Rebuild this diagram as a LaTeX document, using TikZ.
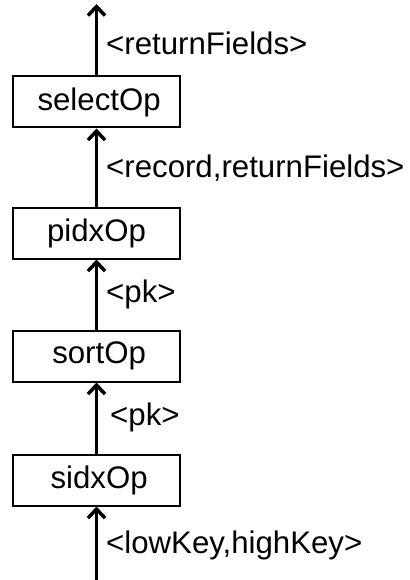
\documentclass[tikz,border=0pt]{standalone}
\usepackage{fontspec}
\setmainfont{Liberation Sans}
\usetikzlibrary{arrows.meta}

\tikzset{
  opbox/.style={draw,line width=2pt,minimum width=167pt,minimum height=51pt,inner sep=0pt},
  flow/.style={line width=3.5pt,-{Straight Barb[length=9pt,width=17pt,line width=3.5pt]}},
  tuple/.style={anchor=west,inner sep=0pt}
}

\begin{document}
\begin{tikzpicture}[x=1pt,y=-1pt,font=\fontsize{31.2}{37}\selectfont]
        \useasboundingbox (0,0) rectangle (409,580);
        \node[opbox] (select) at (96.5,102) {\,selectOp};
        \node[opbox] (pidx) at (96.5,233) {pidxOp};
        \node[opbox] (sort) at (96.5,356) {\,sortOp};
        \node[opbox] (sidx) at (96.5,480) {\,sidxOp};
        \coordinate (out) at (96.5,4);
        \coordinate (in) at (96.5,580);
        \draw[flow](select.north)--(out);
        \draw[flow](pidx.north)--(select.south);
        \draw[flow](sort.north)--(pidx.south);
        \draw[flow](sidx.north)--(sort.south);
        \draw[flow](in)--(sidx.south);
        \node[tuple] at (106,43) {<returnFields>};
        \node[tuple] at (106,168) {<record,returnFields>};
        \node[tuple] at (106,294) {<pk>};
        \node[tuple] at (110,417) {<pk>};
        \node[tuple] at (106,545) {<lowKey,highKey>};
    \end{tikzpicture}
\end{document}
